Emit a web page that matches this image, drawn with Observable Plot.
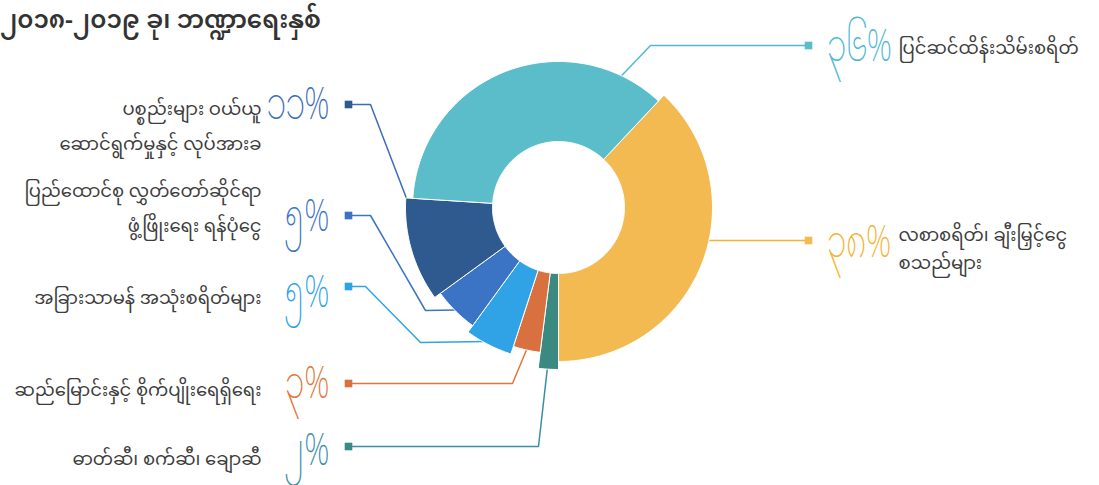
<!DOCTYPE html>
<html><head><meta charset="utf-8">
<script src="https://cdn.jsdelivr.net/npm/d3@7"></script>
<script src="https://cdn.jsdelivr.net/npm/@observablehq/plot@0.6"></script>
<style>
body{margin:0;background:#fff;}
#wrap{position:relative;width:1099px;height:485px;overflow:hidden;background:#fff;}
#title{position:absolute;left:0;top:6px;margin:0;font-family:"Noto Sans Myanmar","Noto Sans Myanmar UI",Padauk,"Myanmar Text",sans-serif;font-weight:600;font-size:24.5px;line-height:34px;color:#333;white-space:nowrap;z-index:2;}
svg{display:block;}
</style></head><body>
<div id="wrap"><div id="title">၂၀၁၈-၂၀၁၉ ခု၊ ဘဏ္ဍာရေးနှစ်</div><div id="chart"></div></div>
<script>
// ---- data ----
const categories = [
  "လစာစရိတ်၊ ချီးမြှင့်ငွေ\nစသည်များ",
  "ဓာတ်ဆီ၊ စက်ဆီ၊ ချောဆီ",
  "ဆည်မြောင်းနှင့် စိုက်ပျိုးရေရှိရေး",
  "အခြားသာမန် အသုံးစရိတ်များ",
  "ပြည်ထောင်စု လွှတ်တော်ဆိုင်ရာ\nဖွံ့ဖြိုးရေး ရန်ပုံငွေ",
  "ပစ္စည်းများ ဝယ်ယူ\nဆောင်ရွက်မှုနှင့် လုပ်အားခ",
  "ပြင်ဆင်ထိန်းသိမ်းစရိတ်"
];
const values = [38, 2, 3, 5, 5, 11, 36];

// ---- styles / layout ----
const colors = ["#f4ba52", "#3b8a82", "#d8703f", "#2fa3e6", "#3b74c4", "#2f5a8f", "#5bbdc9"];
const textColors = ["#f4b431", "#3a8eaa", "#e0763a", "#2fa3e6", "#3b74c4", "#3a6cb8", "#4fb9d2"];
const sliceRadius = [154, 162, 146, 154, 146, 153, 146];
const innerRadius = 66;
const center = [558, 207];
const anchorFrac = [0.433, 0.55, 0.5, 0.6, 0.5, 0.99, 0.863];
const side = ["right", "left", "left", "left", "left", "left", "right"];
const squareY = [240, 446, 383, 286, 215, 104, 45];
const bends = [[], [[538, 446]], [[512, 383]], [[420, 342], [365, 286]], [[425, 310], [370, 215]], [[370, 104]], [[650, 45]]];
const numY = [242, 450, 383, 292, 216, 104, 46];
const textY = [246, 453, 384, 292, 203, 121, 45];
const squareX = {left: 348, right: 808};
const numX = {left: 329, right: 826};
const textX = {left: 261, right: 898};

const mmFont = '"Noto Sans Myanmar","Noto Sans Myanmar UI",Padauk,"Myanmar Text",sans-serif';
const toMM = s => String(s).replace(/[0-9]/g, d => String.fromCharCode(0x1040 + +d));

// pie angles: salaries slice ends at the bottom
const total = d3.sum(values);
const start = Math.PI - values[0] / total * 2 * Math.PI;
const arcs = d3.pie().sort(null).startAngle(start).endAngle(start + 2 * Math.PI)(values);
const pt = (a, r) => [center[0] + r * Math.sin(a), center[1] - r * Math.cos(a)];

const slicePts = [];
arcs.forEach((a, i) => {
  const n = Math.max(2, Math.ceil((a.endAngle - a.startAngle) / 0.015));
  const ring = [];
  for (let k = 0; k <= n; k++) ring.push(pt(a.startAngle + (a.endAngle - a.startAngle) * k / n, sliceRadius[i]));
  for (let k = n; k >= 0; k--) ring.push(pt(a.startAngle + (a.endAngle - a.startAngle) * k / n, innerRadius));
  ring.push(ring[0]);
  ring.forEach(([x, y]) => slicePts.push({i, x, y, color: colors[i]}));
});

const leaderPts = [];
const squares = [];
arcs.forEach((a, i) => {
  const ang = a.startAngle + (a.endAngle - a.startAngle) * anchorFrac[i];
  const path = [pt(ang, sliceRadius[i] - 1), ...bends[i], [squareX[side[i]], squareY[i]]];
  path.forEach(([x, y]) => leaderPts.push({i, x, y, color: textColors[i]}));
  squares.push({x: squareX[side[i]], y: squareY[i], color: colors[i]});
});

const nums = arcs.map((a, i) => ({x: numX[side[i]], y: numY[i], side: side[i], label: toMM(values[i]) + "%", color: textColors[i]}));
const labels = categories.map((c, i) => ({x: textX[side[i]], y: textY[i], side: side[i], label: c}));

const chart = Plot.plot({
  width: 1099,
  height: 485,
  margin: 0,
  x: {domain: [0, 1099], range: [0, 1099], axis: null},
  y: {domain: [0, 485], range: [0, 485], axis: null},
  color: {type: "identity"},
  style: {background: "#fff", fontFamily: mmFont},
  marks: [
    Plot.line(leaderPts, {x: "x", y: "y", z: "i", stroke: "color", strokeWidth: 1.5, curve: "linear", strokeLinejoin: "miter"}),
    Plot.line(slicePts, {x: "x", y: "y", z: "i", fill: "color", stroke: "#fff", strokeWidth: 1, curve: "linear"}),
    Plot.dot(squares, {x: "x", y: "y", fill: "color", symbol: "square", r: 4.3}),
    Plot.text(nums.filter(d => d.side === "left"), {x: "x", y: "y", text: "label", fill: "color", textAnchor: "end", fontSize: 45, fontWeight: 200, lineAnchor: "middle"}),
    Plot.text(nums.filter(d => d.side === "right"), {x: "x", y: "y", text: "label", fill: "color", textAnchor: "start", fontSize: 45, fontWeight: 200, lineAnchor: "middle"}),
    Plot.text(labels.filter(d => d.side === "left"), {x: "x", y: "y", text: "label", fill: "#3d3d3d", textAnchor: "end", fontSize: 18, lineHeight: 1.92, lineAnchor: "middle"}),
    Plot.text(labels.filter(d => d.side === "right"), {x: "x", y: "y", text: "label", fill: "#3d3d3d", textAnchor: "start", fontSize: 18, lineHeight: 1.55, lineAnchor: "middle"})
  ]
});
// condense the big percentage figures horizontally, as in the original typeface
d3.select(chart).selectAll("text").filter(function() { return /%$/.test(this.textContent); }).each(function() {
  const t = this.getAttribute("transform");
  if (t) {
    this.setAttribute("transform", t + " scale(0.7,1)");
  } else {
    const x = +(this.getAttribute("x") || 0), y = +(this.getAttribute("y") || 0);
    this.removeAttribute("x"); this.removeAttribute("y");
    this.setAttribute("transform", `translate(${x},${y}) scale(0.7,1)`);
  }
});
document.getElementById("chart").append(chart);
</script>
</body></html>
